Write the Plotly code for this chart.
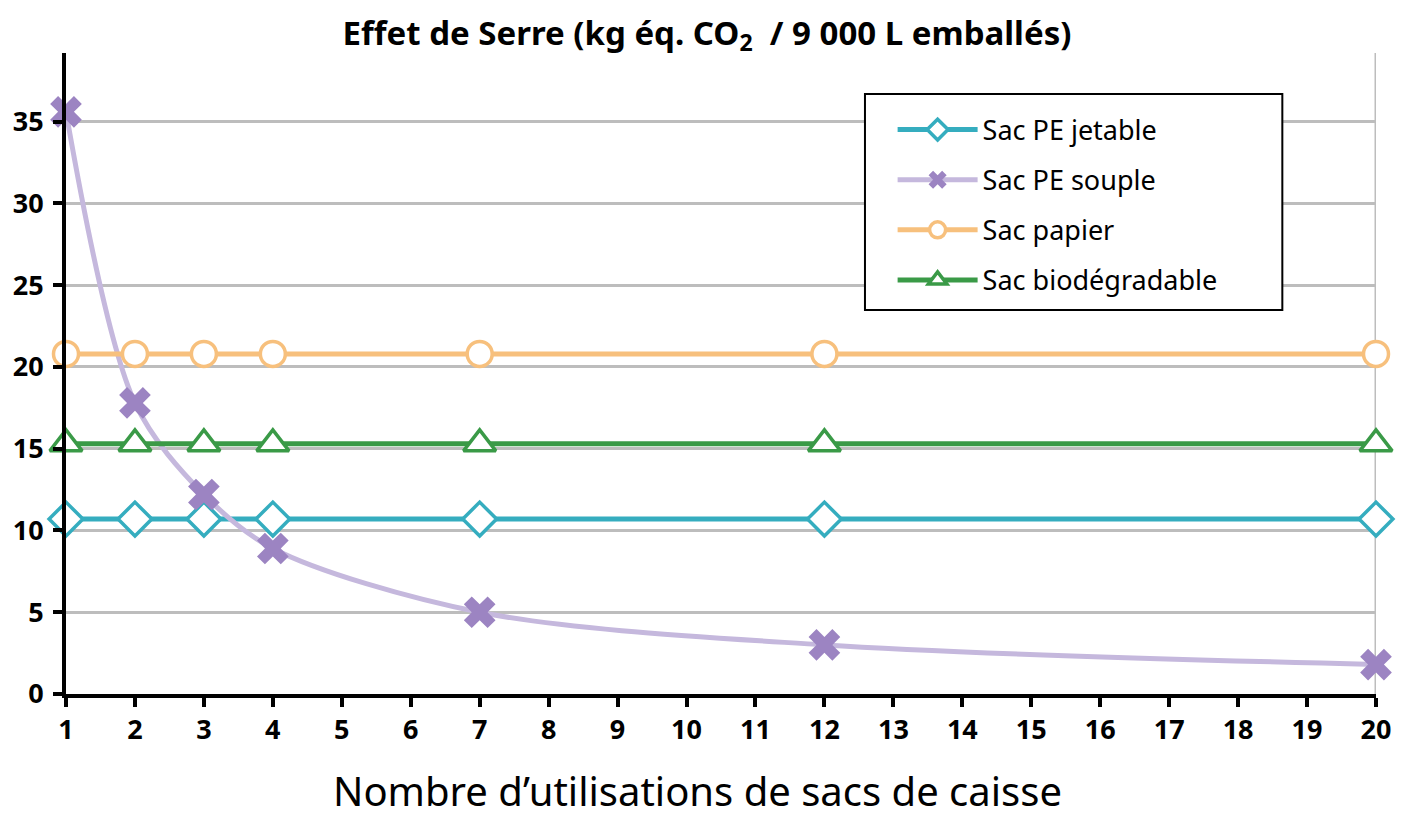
import plotly.graph_objects as go

# Number of uses of the checkout bag
uses = [1, 2, 3, 4, 7, 12, 20]

# Greenhouse effect (kg CO2 eq. / 9 000 L packed) for each bag type
pe_jetable = [10.7, 10.7, 10.7, 10.7, 10.7, 10.7, 10.7]
pe_souple = [35.6, 17.8, 12.2, 8.9, 5.0, 3.0, 1.8]
papier = [20.8, 20.8, 20.8, 20.8, 20.8, 20.8, 20.8]
biodegradable = [15.3, 15.3, 15.3, 15.3, 15.3, 15.3, 15.3]

x_ticks = list(range(1, 21))
y_ticks = [0, 5, 10, 15, 20, 25, 30, 35]

FONT = "Noto Sans"
TEAL = "#35ADBF"
LILAC_LINE = "#C5B8DD"
LILAC_MARK = "#9C84C2"
ORANGE = "#F7C07D"
GREEN = "#3A9A47"
GRID = "#BDBDBD"

fig = go.Figure()

fig.add_trace(go.Scatter(
    x=uses, y=pe_jetable, name="Sac PE jetable", legendgroup="a",
    mode="lines+markers", cliponaxis=False,
    line=dict(color=TEAL, width=5),
    marker=dict(symbol="diamond", size=26, color="white",
                line=dict(color=TEAL, width=3.5)),
))
fig.add_trace(go.Scatter(
    x=uses, y=pe_souple, name="Sac PE souple", legendgroup="b",
    mode="lines+markers", cliponaxis=False,
    line=dict(color=LILAC_LINE, width=5, shape="spline", smoothing=0.9),
    marker=dict(symbol="x", size=28, color=LILAC_MARK,
                line=dict(width=0)),
))
fig.add_trace(go.Scatter(
    x=uses, y=papier, name="Sac papier", legendgroup="c",
    mode="lines+markers", cliponaxis=False,
    line=dict(color=ORANGE, width=5),
    marker=dict(symbol="circle", size=25, color="white",
                line=dict(color=ORANGE, width=3.5)),
))
fig.add_trace(go.Scatter(
    x=uses, y=biodegradable, name="Sac biodégradable", legendgroup="d",
    mode="lines+markers", cliponaxis=False,
    line=dict(color=GREEN, width=5),
    marker=dict(symbol="triangle-up", size=28, color="white",
                line=dict(color=GREEN, width=3.5)),
))

# Right-hand border of the plotting area
fig.add_shape(type="line", xref="x", yref="paper", x0=20, x1=20, y0=0, y1=1,
              line=dict(color=GRID, width=3), layer="below")

# Legend frame
fig.add_shape(type="rect", xref="paper", yref="paper",
              x0=0.6099, x1=0.9285, y0=0.599, y1=0.936,
              line=dict(color="black", width=2), fillcolor="white",
              layer="above")

fig.update_layout(
    width=1403, height=817,
    margin=dict(l=66, r=22, t=53, b=123),
    paper_bgcolor="white", plot_bgcolor="white",
    font=dict(family=FONT, color="black"),
    title=dict(
        text="Effet de Serre (kg éq. CO<sub>2</sub> \u00a0/ 9\u00a0000 L emballés)",
        x=707 / 1403, xref="container", xanchor="center",
        y=1 - 33 / 817, yref="container", yanchor="middle",
        font=dict(family=FONT, size=33, weight="bold", color="black"),
    ),
    showlegend=True,
    legend=dict(
        x=0.631, y=0.918, xanchor="left", yanchor="top",
        bgcolor="rgba(0,0,0,0)", borderwidth=0,
        font=dict(family=FONT, size=27, color="black"),
        tracegroupgap=12, itemwidth=80,
    ),
    xaxis=dict(
        range=[1, 20], tickmode="array", tickvals=x_ticks,
        ticktext=[str(v) for v in x_ticks],
        showgrid=False, zeroline=False,
        showline=True, linecolor="black", linewidth=4,
        ticks="outside", ticklen=9, tickwidth=4, tickcolor="black",
        tickfont=dict(family=FONT, size=27, weight="bold", color="black"),
        ticklabelstandoff=0,
    ),
    yaxis=dict(
        range=[0, 39.2], tickmode="array", tickvals=y_ticks,
        ticktext=[str(v) for v in y_ticks],
        showgrid=True, gridcolor=GRID, gridwidth=3, zeroline=False,
        showline=True, linecolor="black", linewidth=4,
        ticks="outside", ticklen=9, tickwidth=4, tickcolor="black",
        tickfont=dict(family=FONT, size=27, weight="bold", color="black"),
        ticklabelstandoff=4,
    ),
    annotations=[dict(
        text="Nombre d’utilisations de sacs de caisse",
        xref="paper", yref="paper", x=(700 - 66) / 1315, y=(694 - 790) / 641,
        xanchor="center", yanchor="middle", showarrow=False,
        font=dict(family=FONT, size=40, color="black"),
    )],
)

fig.write_html("out.html")
